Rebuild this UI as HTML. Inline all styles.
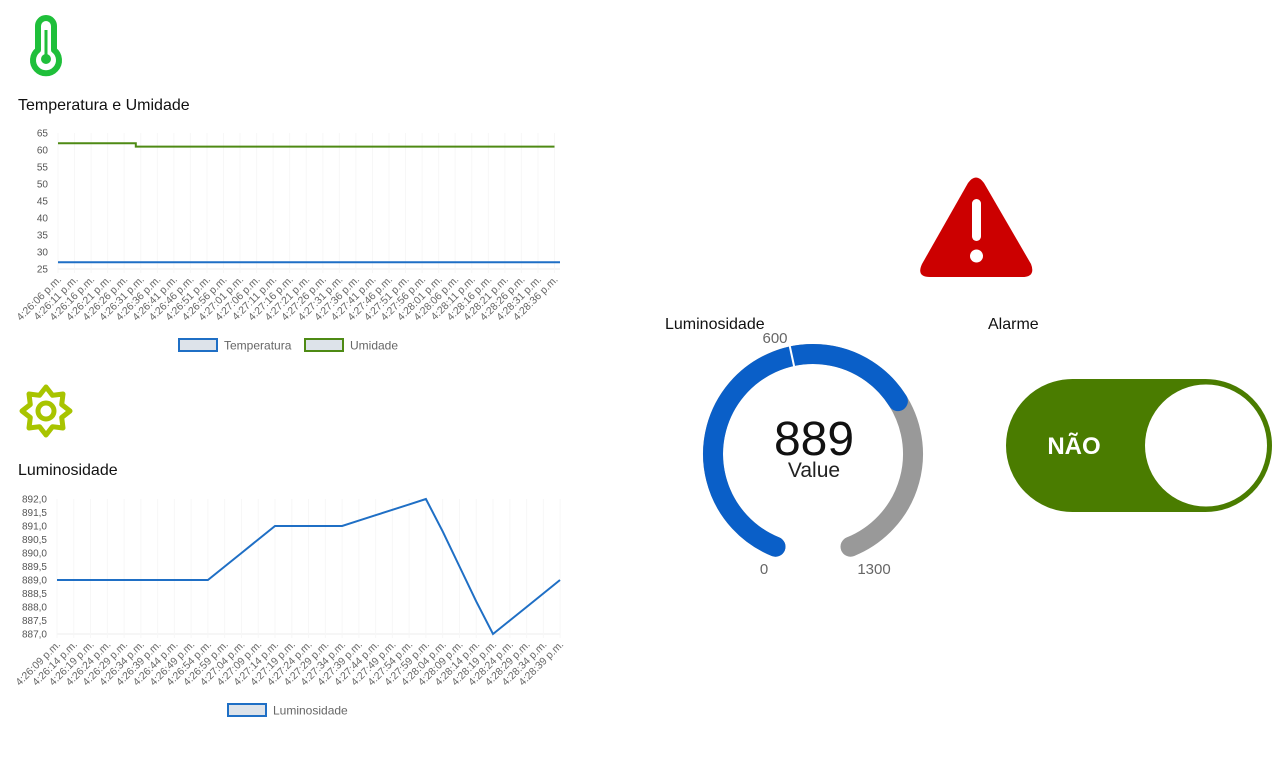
<!DOCTYPE html>
<html><head><meta charset="utf-8"><style>
html,body{margin:0;padding:0;background:#fff;width:1280px;height:761px;overflow:hidden}
svg{display:block;font-family:"Liberation Sans",sans-serif}
</style></head><body>
<svg id="page" width="1280" height="761" viewBox="0 0 1280 761" xmlns="http://www.w3.org/2000/svg">
  <g>
    <path d="M38,26 a8,8 0 0 1 16,0 v24 a13,13 0 1 1 -16,0 z" fill="none" stroke="#1fbf3a" stroke-width="6" stroke-linejoin="round"/>
    <line x1="46" y1="30" x2="46" y2="56" stroke="#1fbf3a" stroke-width="3"/>
    <circle cx="46" cy="59" r="5" fill="#1fbf3a"/>
  </g>
  <text x="18" y="110" font-size="16" fill="#111">Temperatura e Umidade</text>

  <g>
    <polygon id="star" fill="none" stroke="#a8c400" stroke-width="5" stroke-linejoin="round"/>
    <circle cx="46" cy="411" r="8" fill="none" stroke="#a8c400" stroke-width="5"/>
  </g>
  <text x="18" y="475" font-size="16" fill="#111">Luminosidade</text>

  <g id="chart1"></g>
  <g id="chart2"></g>

  <g>
    <path d="M968,183 Q976,172 984,183 L1031,264 Q1036,277 1022,277 L930,277 Q916,277 922,264 Z" fill="#cc0000"/>
    <rect x="972" y="199" width="9" height="42" rx="4.5" fill="#fff"/>
    <circle cx="976.5" cy="256" r="6.5" fill="#fff"/>
  </g>

  <text x="665" y="329" font-size="16" fill="#111">Luminosidade</text>
  <text x="988" y="329" font-size="16" fill="#111">Alarme</text>

  <g id="gauge"></g>

  <g>
    <rect x="1008" y="381" width="262" height="129" rx="64.5" fill="#4a7c00" stroke="#4a7c00" stroke-width="4"/>
    <circle cx="1206" cy="445.5" r="61" fill="#fff"/>
    <text x="1074" y="454" font-size="24" font-weight="bold" fill="#fff" text-anchor="middle">NÃO</text>
  </g>
</svg>
<script>
const tempHumLabels = ["4:26:06","4:26:11","4:26:16","4:26:21","4:26:26","4:26:31","4:26:36","4:26:41","4:26:46","4:26:51","4:26:56","4:27:01","4:27:06","4:27:11","4:27:16","4:27:21","4:27:26","4:27:31","4:27:36","4:27:41","4:27:46","4:27:51","4:27:56","4:28:01","4:28:06","4:28:11","4:28:16","4:28:21","4:28:26","4:28:31","4:28:36"];
const temperatura = [27,27,27,27,27,27,27,27,27,27,27,27,27,27,27,27,27,27,27,27,27,27,27,27,27,27,27,27,27,27,27,27];
const umidade = [62,62,62,62,62,61,61,61,61,61,61,61,61,61,61,61,61,61,61,61,61,61,61,61,61,61,61,61,61,61,61];
const tempHumTicks = [25,30,35,40,45,50,55,60,65];
const lumLabels = ["4:26:09","4:26:14","4:26:19","4:26:24","4:26:29","4:26:34","4:26:39","4:26:44","4:26:49","4:26:54","4:26:59","4:27:04","4:27:09","4:27:14","4:27:19","4:27:24","4:27:29","4:27:34","4:27:39","4:27:44","4:27:49","4:27:54","4:27:59","4:28:04","4:28:09","4:28:14","4:28:19","4:28:24","4:28:29","4:28:34","4:28:39"];
const luminosidade = [889,889,889,889,889,889,889,889,889,889,889.5,890,890.5,891,891,891,891,891,891.2,891.4,891.6,891.8,892,890.8,889.5,888.2,887,887.5,888,888.5,889];
const lumTicks = [887,887.5,888,888.5,889,889.5,890,890.5,891,891.5,892];
const gaugeValue = 889;
const gaugeMin = 0, gaugeMax = 1300, gaugeMark = 600;

const NS="http://www.w3.org/2000/svg";
function mk(tag,attrs,parent){const e=document.createElementNS(NS,tag);for(const k in attrs)e.setAttribute(k,attrs[k]);parent.appendChild(e);return e;}

(function(){const pts=[];for(let i=0;i<16;i++){const a=i*Math.PI/8-Math.PI/2;const r=i%2?17:24;pts.push((46+r*Math.cos(a)).toFixed(1)+","+(411+r*Math.sin(a)).toFixed(1));}document.getElementById('star').setAttribute('points',pts.join(' '));})();

function drawChart(g,cfg){
  const {x0,x1,step,yTop,yBot,vmin,vmax,ticks,fmt,labels,series}=cfg;
  const X=i=>x0+i*step;
  const Y=v=>yBot-(v-vmin)/(vmax-vmin)*(yBot-yTop);
  mk('line',{x1:x0,y1:yBot,x2:x1,y2:yBot,stroke:'#ececec'},g);
  labels.forEach((l,i)=>{
    mk('line',{x1:X(i),y1:yTop,x2:X(i),y2:yBot+4,stroke:'#f7f7f7'},g);
    const lx=X(i)+4,ly=yBot+11;
    const t=mk('text',{x:lx,y:ly,'font-size':10.5,fill:'#666','text-anchor':'end',transform:`rotate(-45 ${lx} ${ly})`},g);
    
    
    t.textContent=l+' p.m.';
  });
  ticks.forEach(v=>{
    const t=mk('text',{x:x0-10,y:Y(v)+3.5,'font-size':10,fill:'#555','text-anchor':'end'},g);
    
    
    t.textContent=fmt(v);
  });
  series.forEach(s=>{
    let d='';
    s.values.forEach((v,i)=>{
      const x=Math.min(X(i),x1);
      if(i&&s.stepped){const xm=Math.min(X(i-0.3),x1);d+='L'+xm.toFixed(1)+','+Y(s.values[i-1]).toFixed(1)+'L'+xm.toFixed(1)+','+Y(v).toFixed(1);}
      d+=(i?'L':'M')+x.toFixed(1)+','+Y(v).toFixed(1);
    });
    const p=mk('path',{d,fill:'none',stroke:s.color,'stroke-width':2},g);
    
    
  });
}

const c1=document.getElementById('chart1');
drawChart(c1,{x0:58,x1:560,step:16.55,yTop:133,yBot:269,vmin:25,vmax:65,ticks:tempHumTicks,fmt:v=>String(v),labels:tempHumLabels,
  series:[{name:'temperatura',values:temperatura,color:'#1f6fc5'},{name:'umidade',values:umidade,color:'#4e8a14',stepped:true}]});
const c2=document.getElementById('chart2');
drawChart(c2,{x0:57,x1:560,step:16.77,yTop:499,yBot:634,vmin:887,vmax:892,ticks:lumTicks,fmt:v=>v.toFixed(1).replace('.',','),labels:lumLabels,
  series:[{name:'luminosidade',values:luminosidade,color:'#1f6fc5'}]});

function legend(parent,x,y,label,color,name){
  const g=mk('g',{},parent);
  
  
  mk('rect',{x,y,width:38,height:12,fill:'#dde3ea',stroke:color,'stroke-width':2},g);
  const t=mk('text',{x:x+45,y:y+10.5,'font-size':12,fill:'#666'},g);
  t.textContent=label;
}
legend(c1,179,339,'Temperatura','#1f6fc5','legend-temperatura');
legend(c1,305,339,'Umidade','#4e8a14','legend-umidade');
legend(c2,228,704,'Luminosidade','#1f6fc5','legend-luminosidade');

(function(){
  const g=document.getElementById('gauge');
  const cx=813,cy=454,r=100,A0=-158,A1=158;
  const ang=v=>A0+(v-gaugeMin)/(gaugeMax-gaugeMin)*(A1-A0);
  const pt=a=>{const t=a*Math.PI/180;return [cx+r*Math.sin(t),cy-r*Math.cos(t)];};
  const arc=(a,b)=>{const p=pt(a),q=pt(b);return `M${p[0].toFixed(1)},${p[1].toFixed(1)} A${r},${r} 0 ${b-a>180?1:0} 1 ${q[0].toFixed(1)},${q[1].toFixed(1)}`;};
  const bg=mk('path',{d:arc(A0,A1),fill:'none',stroke:'#999','stroke-width':20,'stroke-linecap':'round'},g);
  
  
  const fg=mk('path',{d:arc(A0,ang(gaugeValue)),fill:'none',stroke:'#0a5fc8','stroke-width':20,'stroke-linecap':'round'},g);
  
  
  const m=ang(gaugeMark),t=m*Math.PI/180;
  mk('line',{x1:cx+(r-11)*Math.sin(t),y1:cy-(r-11)*Math.cos(t),x2:cx+(r+11)*Math.sin(t),y2:cy-(r+11)*Math.cos(t),stroke:'#fff','stroke-width':2},g);
  const lab=(x,y,s,sz,col,name)=>{const e=mk('text',{x,y,'font-size':sz,fill:col,'text-anchor':'middle'},g);e.textContent=s;};
  lab(775,343,String(gaugeMark),15,'#666','gauge-mark-label');
  lab(764,574,String(gaugeMin),15,'#666','gauge-min-label');
  lab(874,574,String(gaugeMax),15,'#666','gauge-max-label');
  lab(814,455,String(gaugeValue),48,'#111','gauge-value');
  lab(814,477,'Value',21,'#222','gauge-value-caption');
})();
</script>
</body></html>
